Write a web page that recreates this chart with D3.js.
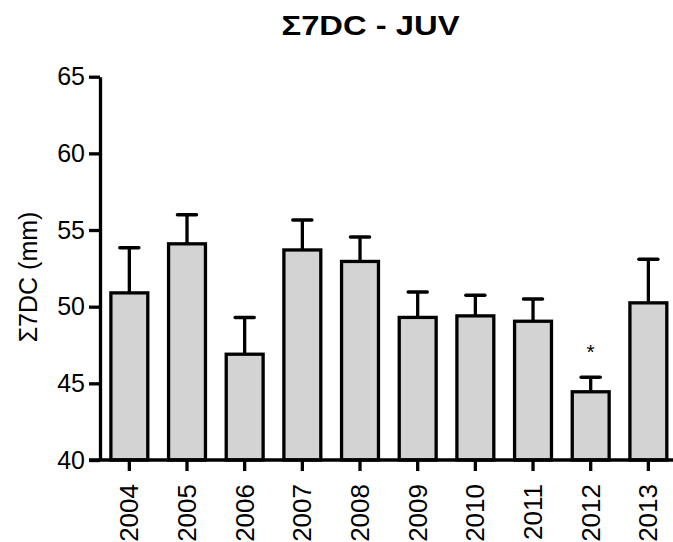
<!DOCTYPE html>
<html><head><meta charset="utf-8">
<script src="https://cdn.jsdelivr.net/npm/d3@7"></script>
<style>body{margin:0;background:#fff}svg{display:block}text{font-family:"Liberation Sans",Arial,sans-serif}</style>
</head><body>
<svg id="c" width="673" height="542"></svg>
<script>
const years = ["2004","2005","2006","2007","2008","2009","2010","2011","2012","2013"];
const means = [50.9, 54.1, 46.9, 53.7, 52.95, 49.3, 49.4, 49.05, 44.45, 50.25];
const upper = [53.85, 56.0, 49.3, 55.65, 54.55, 50.95, 50.75, 50.5, 45.4, 53.1];
const yTicks = [40, 45, 50, 55, 60, 65];
const marks = ["", "", "", "", "", "", "", "", "*", ""];
const title = "\u03A37DC - JUV";
const yLabel = "\u03A37DC (mm)";

const svg = d3.select("#c");
const x = d3.scaleBand().domain(years).range([100.5, 677.2]).paddingInner(0.36).paddingOuter(0.18);
const y = d3.scaleLinear().domain([40, 65]).range([460, 76.7]);

// bars
const g = svg.append("g");
g.selectAll("rect").data(years).enter().append("rect")
  .attr("x", d => x(d))
  .attr("width", x.bandwidth())
  .attr("y", (d, i) => y(means[i]))
  .attr("height", (d, i) => y(40) - y(means[i]))
  .attr("fill", "#d3d3d3").attr("stroke", "#000").attr("stroke-width", 3.3);

// error bars
years.forEach((d, i) => {
  const cx = x(d) + x.bandwidth() / 2;
  g.append("line").attr("x1", cx).attr("x2", cx).attr("y1", y(means[i])).attr("y2", y(upper[i]))
    .attr("stroke", "#000").attr("stroke-width", 3.3);
  g.append("line").attr("x1", cx - 9.5).attr("x2", cx + 9.5).attr("y1", y(upper[i])).attr("y2", y(upper[i]))
    .attr("stroke", "#000").attr("stroke-width", 3.5).attr("stroke-linecap", "round");
  if (marks[i]) {
    g.append("text").attr("x", cx).attr("y", y(upper[i]) - 18).attr("text-anchor", "middle")
      .attr("font-size", 21).text(marks[i]);
  }
});

// axes
const ya = svg.append("g").attr("transform", "translate(100,0)")
  .call(d3.axisLeft(y).tickValues(yTicks).tickSize(11).tickSizeOuter(0).tickPadding(4));
ya.selectAll("path,line").attr("stroke", "#000").attr("stroke-width", 3.3);
ya.selectAll("text").attr("font-size", 25).attr("fill", "#000")
  .attr("font-family", "Liberation Sans, Arial, sans-serif");

const xa = svg.append("g").attr("transform", "translate(0,460)")
  .call(d3.axisBottom(x).tickSize(11).tickSizeOuter(0));
xa.select(".domain").attr("d", "M89,0H673");
xa.selectAll("path,line").attr("stroke", "#000").attr("stroke-width", 3.3);
xa.selectAll("text").attr("font-size", 26).attr("fill", "#000")
  .attr("font-family", "Liberation Sans, Arial, sans-serif")
  .attr("transform", "rotate(-90)").attr("text-anchor", "end")
  .attr("x", -24).attr("y", 0).attr("dy", "0.35em");

// title
svg.append("text").attr("transform", "translate(370.5,35) scale(1.17,1)").attr("text-anchor", "middle")
  .attr("font-size", 28).attr("font-weight", "bold").text(title);

// y label
svg.append("text").attr("transform", "translate(36.5,277) rotate(-90)").attr("text-anchor", "middle")
  .attr("font-size", 25).text(yLabel);
</script>
</body></html>
